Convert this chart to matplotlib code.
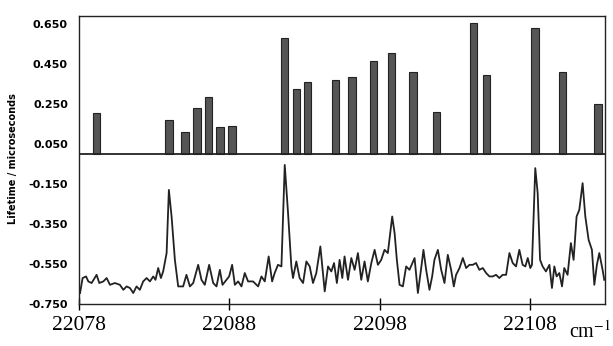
import matplotlib
matplotlib.use("Agg")
import matplotlib.pyplot as plt

# ---- data ----
bar_x = [22079.18, 22083.98, 22085.04, 22085.84, 22086.62, 22087.39, 22088.19,
         22091.69, 22092.47, 22093.20, 22095.08, 22096.16, 22097.60, 22098.78,
         22100.24, 22101.80, 22104.25, 22105.13, 22108.35, 22110.18, 22112.55]
bar_v = [0.208, 0.172, 0.110, 0.230, 0.288, 0.138, 0.141,
         0.580, 0.325, 0.363, 0.372, 0.385, 0.467, 0.508,
         0.413, 0.212, 0.658, 0.397, 0.630, 0.413, 0.252]

line_x = [22078.07, 22078.24, 22078.47, 22078.62, 22078.84, 22079.17, 22079.35, 22079.62,
          22079.84, 22080.06, 22080.39, 22080.72, 22080.95, 22081.17, 22081.39, 22081.61,
          22081.83, 22082.05, 22082.27, 22082.50, 22082.72, 22082.94, 22083.09, 22083.27,
          22083.45, 22083.60, 22083.83, 22083.98, 22084.16, 22084.38, 22084.60, 22084.93,
          22085.15, 22085.38, 22085.60, 22085.93, 22086.15, 22086.37, 22086.66, 22086.93,
          22087.15, 22087.37, 22087.55, 22087.81, 22087.99, 22088.19, 22088.37, 22088.59,
          22088.81, 22089.03, 22089.25, 22089.58, 22089.92, 22090.14, 22090.36, 22090.62,
          22090.85, 22091.02, 22091.24, 22091.47, 22091.69, 22091.91, 22092.13, 22092.24,
          22092.46, 22092.68, 22092.91, 22093.13, 22093.35,
          22093.57, 22093.79, 22094.06, 22094.35, 22094.57, 22094.79, 22094.97, 22095.16,
          22095.34, 22095.52, 22095.67, 22095.90, 22096.12, 22096.34, 22096.56, 22096.78,
          22097.00, 22097.22, 22097.45, 22097.67, 22097.89, 22098.11, 22098.33, 22098.55,
          22098.84, 22099.00, 22099.15, 22099.33, 22099.55, 22099.77, 22099.99, 22100.33,
          22100.55, 22100.77, 22100.92, 22101.10, 22101.32, 22101.50, 22101.65, 22101.88,
          22102.10, 22102.32, 22102.54, 22102.76, 22102.94, 22103.09, 22103.32, 22103.54,
          22103.76, 22103.98, 22104.20, 22104.42, 22104.64, 22104.87, 22105.09, 22105.31,
          22105.53, 22105.75, 22105.97, 22106.19, 22106.42, 22106.64, 22106.86, 22107.08,
          22107.30, 22107.52, 22107.70, 22107.86, 22108.03, 22108.14, 22108.36, 22108.52,
          22108.68, 22108.85, 22109.07, 22109.30, 22109.47, 22109.63, 22109.78, 22109.96,
          22110.14, 22110.29, 22110.51, 22110.73, 22110.91, 22111.11, 22111.29, 22111.51,
          22111.69, 22111.91, 22112.13, 22112.29, 22112.46, 22112.62, 22112.84, 22112.95]
line_v = [-0.695, -0.620, -0.612, -0.637, -0.645, -0.604, -0.645, -0.637,
          -0.620, -0.654, -0.645, -0.654, -0.679, -0.662, -0.670, -0.695,
          -0.662, -0.679, -0.637, -0.620, -0.637, -0.612, -0.629, -0.570,
          -0.620, -0.587, -0.495, -0.179, -0.312, -0.529, -0.662, -0.662,
          -0.604, -0.662, -0.645, -0.554, -0.629, -0.654, -0.554, -0.645,
          -0.662, -0.579, -0.654, -0.629, -0.612, -0.554, -0.654, -0.637,
          -0.662, -0.595, -0.637, -0.637, -0.662, -0.612, -0.637, -0.512,
          -0.637, -0.595, -0.554, -0.562, -0.054, -0.295, -0.562, -0.620,
          -0.537, -0.620, -0.645, -0.537, -0.562,
          -0.645, -0.595, -0.462, -0.687, -0.562, -0.587, -0.545, -0.645,
          -0.529, -0.620, -0.512, -0.629, -0.520, -0.579, -0.495, -0.629,
          -0.537, -0.637, -0.545, -0.479, -0.554, -0.529, -0.479, -0.495,
          -0.312, -0.395, -0.529, -0.654, -0.662, -0.562, -0.579, -0.520,
          -0.695, -0.570, -0.479, -0.579, -0.679, -0.612, -0.529, -0.479,
          -0.579, -0.645, -0.504, -0.579, -0.662, -0.604, -0.570, -0.520,
          -0.570, -0.554, -0.554, -0.545, -0.579, -0.570, -0.595, -0.612,
          -0.612, -0.604, -0.620, -0.604, -0.604, -0.495, -0.545, -0.562,
          -0.479, -0.554, -0.562, -0.520, -0.570, -0.554, -0.070, -0.195,
          -0.529, -0.562, -0.587, -0.554, -0.670, -0.562, -0.612, -0.595,
          -0.662, -0.570, -0.604, -0.445, -0.529, -0.312, -0.279, -0.145,
          -0.312, -0.429, -0.479, -0.654, -0.554, -0.495, -0.579, -0.629]

x_ticks = [22078, 22088, 22098, 22108]
x_tick_labels = ["22078", "22088", "22098", "22108"]
y_ticks = [0.65, 0.45, 0.25, 0.05, -0.15, -0.35, -0.55, -0.75]
y_tick_labels = ["0.650", "0.450", "0.250", "0.050", "-0.150", "-0.350", "-0.550", "-0.750"]
y_label = "Lifetime / microseconds"
x_unit = "cm$^{-1}$"

plt.rcParams["mathtext.fontset"] = "stix"

fig = plt.figure(figsize=(6.13, 3.46), dpi=100)
ax = fig.add_axes([79/613, 42/346, 526/613, 288.3/346])

ax.bar(bar_x, bar_v, width=0.5, color="#555555", edgecolor="#222222", linewidth=0.8, zorder=2)
ax.plot(line_x, line_v, color="#222222", linewidth=1.3, zorder=3)
ax.axhline(0, color="#222222", linewidth=1.3, zorder=4)

ax.set_xlim(22078, 22113)
ax.set_ylim(-0.75, 0.693)

for s in ax.spines.values():
    s.set_linewidth(1.0)
    s.set_color("#222222")

ax.set_yticks(y_ticks)
ax.set_yticklabels(y_tick_labels, fontsize=8, fontweight="bold", family="DejaVu Sans")
ax.tick_params(axis="y", length=0, pad=8)

ax.set_xticks(x_ticks)
ax.set_xticklabels(x_tick_labels, fontsize=15.5, family="Liberation Serif")
ax.tick_params(axis="x", direction="inout", length=8, width=1.0, pad=5)

ax.set_ylabel(y_label, fontsize=7, fontweight="bold", family="DejaVu Sans")
ax.yaxis.set_label_coords(-0.116, 0.503)

fig.text(611/613, 1 - 338/346, x_unit, fontsize=14.5, family="Liberation Serif",
         ha="right", va="baseline")

fig.savefig("out.png", dpi=100, facecolor="white")
